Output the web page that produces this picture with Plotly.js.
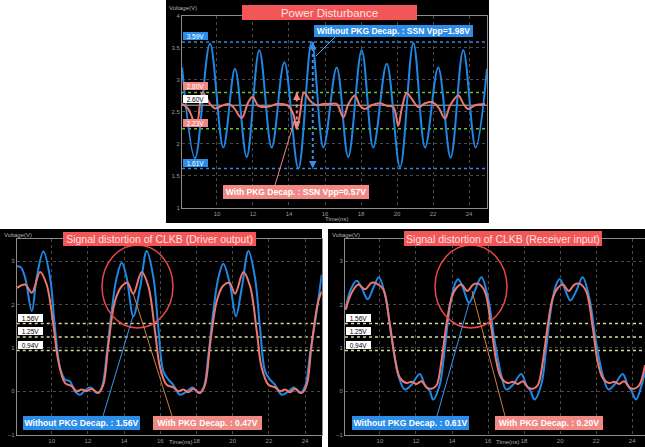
<!DOCTYPE html>
<html><head><meta charset="utf-8">
<script src="https://cdn.plot.ly/plotly-3.0.1.min.js"></script>
<style>html,body{margin:0;padding:0;background:#fff;}#chart{width:645px;height:447px;}</style>
</head><body><div id="chart"></div>
<script>
// ---------- DATA ----------
// Panel 1: Power Disturbance (Voltage vs Time(ns))
const pdTimeNoDecap = [8.06, 8.78, 9.61, 10.35, 11.0, 11.65, 12.35, 13.04, 13.74, 14.52, 15.26, 15.91, 16.65, 17.29, 18.04, 18.68, 19.43, 20.17, 20.91, 21.56, 22.29, 22.98, 23.68, 24.37, 25.0];
const pdNoDecap = [3.19, 1.77, 3.56, 1.94, 3.17, 1.79, 3.46, 1.94, 3.27, 1.61, 3.59, 1.94, 3.19, 1.79, 3.46, 1.94, 3.25, 1.63, 3.57, 1.94, 3.19, 1.78, 3.46, 1.94, 3.17];
const pdTimeWithDecap = [8.06, 8.41, 8.85, 9.2, 9.61, 9.89, 10.26, 10.63, 10.91, 11.37, 11.74, 11.97, 12.3, 12.67, 13.04, 13.32, 13.59, 13.96, 14.24, 14.43, 14.61, 14.83, 15.17, 15.54, 15.9, 16.28, 16.65, 17.02, 17.3, 17.67, 17.94, 18.22, 18.59, 19.06, 19.43, 19.8, 20.07, 20.26, 20.54, 20.82, 21.18, 21.56, 21.93, 22.29, 22.67, 22.94, 23.41, 23.69, 23.96, 24.33, 24.89];
const pdWithDecap = [2.62, 2.54, 2.28, 2.80, 2.62, 2.55, 2.59, 2.62, 2.57, 2.40, 2.65, 2.73, 2.59, 2.57, 2.59, 2.62, 2.62, 2.59, 2.46, 2.23, 2.46, 2.80, 2.67, 2.60, 2.62, 2.62, 2.62, 2.41, 2.62, 2.75, 2.59, 2.54, 2.60, 2.63, 2.59, 2.57, 2.28, 2.54, 2.79, 2.70, 2.57, 2.63, 2.65, 2.57, 2.39, 2.59, 2.75, 2.62, 2.54, 2.60, 2.62];
const pdLevels = [3.59, 2.80, 2.60, 2.23, 1.61];
const pdLevelLabels = ['3.59V', '2.80V', '2.60V', '2.23V', '1.61V'];
const pdSwingNoDecap = [3.59, 1.61];   // SSN Vpp = 1.98V
const pdSwingWithDecap = [2.80, 2.23]; // SSN Vpp = 0.57V

// Panel 2: CLKB driver output
const drvTimeNoDecap = [8.07, 8.29, 8.53, 8.9, 9.17, 9.54, 9.91, 10.18, 10.46, 10.74, 11.01, 11.29, 11.57, 11.84, 12.15, 12.49, 12.76, 13.04, 13.31, 13.59, 13.87, 14.14, 14.51, 14.88, 15.25, 15.62, 15.89, 16.17, 16.45, 16.72, 17.09, 17.46, 17.79, 18.1, 18.38, 18.66, 18.93, 19.21, 19.48, 19.85, 20.18, 20.5, 20.87, 21.23, 21.51, 21.79, 22.06, 22.34, 22.71, 23.08, 23.39, 23.72, 24.0, 24.27, 24.64, 24.92];
const drvNoDecap = [2.88, 2.86, 2.62, 1.85, 2.62, 3.22, 2.62, 1.46, 0.54, 0.27, 0.23, 0.0, -0.08, 0.02, 0.09, -0.04, 0.08, 0.85, 1.85, 2.62, 2.96, 2.62, 1.73, 2.38, 3.23, 2.62, 1.46, 0.46, 0.27, 0.15, -0.08, 0.0, 0.09, -0.04, 0.08, 0.85, 1.85, 2.62, 2.94, 2.46, 1.73, 2.38, 3.23, 2.62, 1.46, 0.46, 0.27, 0.15, -0.08, 0.0, 0.09, -0.04, 0.12, 0.85, 1.85, 2.69];
const drvTimeWithDecap = [8.07, 8.53, 8.9, 9.36, 9.72, 10.09, 10.37, 10.74, 11.1, 11.38, 11.66, 11.93, 12.21, 12.58, 12.85, 13.13, 13.5, 13.87, 14.18, 14.51, 14.97, 15.34, 15.71, 15.99, 16.35, 16.72, 17.0, 17.27, 17.55, 17.83, 18.2, 18.47, 18.75, 19.12, 19.45, 19.82, 20.13, 20.59, 20.96, 21.33, 21.6, 21.97, 22.34, 22.62, 22.89, 23.17, 23.44, 23.81, 24.09, 24.36, 24.73, 24.92];
const drvWithDecap = [2.38, 2.46, 2.27, 2.75, 2.46, 1.54, 0.69, 0.19, 0.12, 0.0, 0.04, 0.0, 0.06, -0.04, 0.15, 1.08, 2.08, 2.42, 2.5, 2.25, 2.75, 2.42, 1.38, 0.54, 0.15, 0.09, 0.0, 0.04, -0.02, 0.06, -0.04, 0.15, 1.08, 2.08, 2.42, 2.5, 2.25, 2.75, 2.42, 1.38, 0.54, 0.15, 0.09, 0.0, 0.04, -0.02, 0.06, -0.04, 0.15, 1.08, 2.08, 2.3];

// Panel 3: CLKB receiver input
const rcvTimeNoDecap = [8.1, 8.34, 8.71, 8.99, 9.32, 9.63, 9.94, 10.28, 10.65, 11.01, 11.38, 11.75, 12.21, 12.49, 12.77, 12.95, 13.32, 13.6, 13.87, 14.15, 14.34, 14.61, 14.94, 15.26, 15.63, 16.0, 16.37, 16.73, 17.01, 17.38, 17.84, 18.12, 18.36, 18.58, 18.95, 19.23, 19.5, 19.78, 19.98, 20.24, 20.57, 20.89, 21.25, 21.62, 21.99, 22.36, 22.68, 23.01, 23.47, 23.75, 23.97, 24.21, 24.48, 24.71];
const rcvNoDecap = [1.88, 2.31, 2.55, 2.38, 2.12, 2.38, 2.63, 2.23, 1.23, 0.38, 0.04, 0.15, 0.4, 0.15, 0.0, -0.19, 0.15, 1.0, 1.92, 2.46, 2.58, 2.38, 2.04, 2.31, 2.63, 2.15, 1.15, 0.38, 0.04, 0.15, 0.4, 0.15, 0.0, -0.19, 0.15, 1.0, 1.92, 2.46, 2.58, 2.38, 2.09, 2.31, 2.63, 2.15, 1.15, 0.38, 0.04, 0.15, 0.4, 0.15, 0.0, -0.19, 0.08, 0.45];
const rcvTimeWithDecap = [8.1, 8.43, 8.8, 9.17, 9.54, 9.82, 10.18, 10.55, 10.83, 11.11, 11.48, 11.75, 12.03, 12.31, 12.58, 12.86, 13.14, 13.41, 13.69, 13.97, 14.24, 14.52, 14.85, 15.17, 15.44, 15.81, 16.18, 16.46, 16.73, 17.1, 17.38, 17.66, 17.93, 18.21, 18.49, 18.76, 19.04, 19.32, 19.59, 19.87, 20.15, 20.48, 20.79, 21.07, 21.44, 21.81, 22.08, 22.36, 22.73, 23.01, 23.28, 23.56, 23.84, 24.11, 24.39, 24.71];
const rcvWithDecap = [1.88, 2.27, 2.46, 2.35, 2.5, 2.48, 2.35, 1.54, 0.77, 0.31, 0.19, 0.22, 0.17, 0.23, 0.09, 0.06, 0.14, 0.69, 1.54, 2.15, 2.38, 2.46, 2.31, 2.46, 2.48, 2.31, 1.46, 0.69, 0.31, 0.19, 0.22, 0.17, 0.23, 0.09, 0.06, 0.14, 0.69, 1.54, 2.15, 2.38, 2.46, 2.31, 2.46, 2.48, 2.31, 1.46, 0.69, 0.31, 0.19, 0.22, 0.17, 0.23, 0.09, 0.06, 0.14, 0.6];

const clkLevels = [1.56, 1.25, 0.94];
const clkLevelLabels = ['1.56V', '1.25V', '0.94V'];

const panelTitles = ['Power Disturbance', 'Signal distortion of CLKB (Driver output)', 'Signal distortion of CLKB (Receiver input)'];
const noDecapNotes = ['Without PKG Decap. : SSN Vpp=1.98V', 'Without PKG Decap. : 1.56V', 'Without PKG Decap. : 0.61V'];
const withDecapNotes = ['With PKG Decap. : SSN Vpp=0.57V', 'With PKG Decap. : 0.47V', 'With PKG Decap. : 0.20V'];

// ---------- STYLE ----------
const W = 645, H = 447;
const px = x => x / W;
const py = y => 1 - y / H;
const FONT = 'Liberation Sans, Arial, sans-serif';
const BLUE = '#1f88e5', RED = '#ec776f';
const BOXBLUE = '#2b8de8', BOXPINK = '#f08884', TITLERED = '#f25656';

function line(x, y, color, xa, ya) {
  return {x, y, xaxis: xa, yaxis: ya, type: 'scatter', mode: 'lines',
    line: {color, width: 2, shape: 'spline', smoothing: 1}, hoverinfo: 'skip'};
}
const data = [
  line(pdTimeNoDecap, pdNoDecap, BLUE, 'x', 'y'),
  line(pdTimeWithDecap, pdWithDecap, RED, 'x', 'y'),
  line(drvTimeNoDecap, drvNoDecap, BLUE, 'x2', 'y2'),
  line(drvTimeWithDecap, drvWithDecap, RED, 'x2', 'y2'),
  line(rcvTimeNoDecap, rcvNoDecap, BLUE, 'x3', 'y3'),
  line(rcvTimeWithDecap, rcvWithDecap, RED, 'x3', 'y3')
];

function xax(x0, x1, range, anchor) {
  return {domain: [px(x0), px(x1)], range, anchor, dtick: 2, tick0: 0,
    showgrid: true, gridcolor: '#4a4a4a', griddash: 'dot', gridwidth: 1,
    zeroline: false, showline: true, linecolor: '#8c8c8c', linewidth: 1, mirror: true,
    ticks: '', tickfont: {size: 6, color: '#9a9a9a', family: FONT}, fixedrange: true};
}
function yax(yTop, yBot, range, dtick, anchor) {
  return {domain: [py(yBot), py(yTop)], range, anchor, dtick, tick0: 0,
    showgrid: true, gridcolor: '#4a4a4a', griddash: 'dot', gridwidth: 1,
    zeroline: false, showline: true, linecolor: '#8c8c8c', linewidth: 1, mirror: true,
    ticks: '', tickfont: {size: 6, color: '#9a9a9a', family: FONT}, fixedrange: true};
}

const shapes = [];
const annotations = [];
function rect(x0, y0, x1, y1, fill) {
  shapes.push({type: 'rect', xref: 'paper', yref: 'paper', x0: px(x0), x1: px(x1), y0: py(y1), y1: py(y0),
    fillcolor: fill, line: {width: 0}, layer: 'below'});
}
function seg(x0, y0, x1, y1, color, width) {
  shapes.push({type: 'line', xref: 'paper', yref: 'paper', x0: px(x0), y0: py(y0), x1: px(x1), y1: py(y1),
    line: {color, width: width || 1}, layer: 'above'});
}
function box(text, x0, y0, w, h, bg, color, size, bold) {
  annotations.push({text: bold ? '<b>' + text + '</b>' : text, xref: 'paper', yref: 'paper',
    x: px(x0), y: py(y0), xanchor: 'left', yanchor: 'top', width: w, height: h,
    bgcolor: bg, borderwidth: 0, borderpad: 0, showarrow: false, align: 'center', valign: 'middle',
    font: {family: FONT, size, color}});
}
function levelLabel(text, xPix, level, yref, bg, color) {
  annotations.push({text, xref: 'paper', yref, x: px(xPix), y: level, xanchor: 'left', yanchor: 'bottom',
    yshift: 2, width: 25, height: 8, bgcolor: bg, borderwidth: 0, borderpad: 0, showarrow: false,
    font: {family: FONT, size: 6.5, color}});
}
function hline(xa, ya, range, level, color, dash, width) {
  shapes.push({type: 'line', xref: xa, yref: ya, x0: range[0], x1: range[1], y0: level, y1: level,
    line: {color, width: width || 1.5, dash: dash || 'dot'}, layer: 'below'});
}
function small(text, x, y) {
  annotations.push({text, xref: 'paper', yref: 'paper', x: px(x), y: py(y), xanchor: 'left', yanchor: 'top',
    showarrow: false, font: {family: FONT, size: 6, color: '#b0b0b0'}});
}

const xr1 = [8.056, 25.0], xr2 = [8.066, 24.917], xr3 = [8.06, 24.71];

// panel backgrounds
rect(166, 0, 489, 223, '#000');
rect(0, 229, 322, 447, '#000');
rect(328, 229, 645, 447, '#000');

// ---- Panel 1 reference levels
const pdLevelColors = ['#3a88dc', '#63c22e', '#bdbdbd', '#63c22e', '#3a88dc'];
const pdLevelDash = ['dot', 'dot', 'solid', 'dot', 'dot'];
const pdLabelBg = [BOXBLUE, BOXPINK, '#ffffff', BOXPINK, BOXBLUE];
const pdLabelFg = ['#fff', '#fff', '#000', '#fff', '#fff'];
pdLevels.forEach((lv, i) => {
  hline('x', 'y', xr1, lv, pdLevelColors[i], pdLevelDash[i], pdLevelDash[i] === 'solid' ? 1 : 1.5);
  levelLabel(pdLevelLabels[i], 183, lv, 'y', pdLabelBg[i], pdLabelFg[i]);
});
// vertical swing markers
shapes.push({type: 'line', xref: 'x', yref: 'y', x0: 15.32, x1: 15.32, y0: pdSwingNoDecap[0], y1: pdSwingNoDecap[1],
  line: {color: '#3a90e8', width: 2, dash: 'dot'}, layer: 'above'});
shapes.push({type: 'line', xref: 'x', yref: 'y', x0: 14.43, x1: 14.43, y0: pdSwingWithDecap[0], y1: pdSwingWithDecap[1],
  line: {color: '#f08884', width: 2, dash: 'dot'}, layer: 'above'});
function arrowHead(x, y, dir, color) {
  annotations.push({x, y, xref: 'x', yref: 'y', text: '', showarrow: true, ax: 0, ay: dir * 6,
    arrowhead: 2, arrowsize: 1, arrowwidth: 1.5, arrowcolor: color});
}
arrowHead(15.32, pdSwingNoDecap[0], 1, '#3a90e8');
arrowHead(15.32, pdSwingNoDecap[1], -1, '#3a90e8');
arrowHead(14.43, pdSwingWithDecap[0], 1, '#f08884');
arrowHead(14.43, pdSwingWithDecap[1], -1, '#f08884');

// ---- Panel 2/3 reference levels
clkLevels.forEach((lv, i) => {
  hline('x2', 'y2', xr2, lv, '#d9d9a0');
  hline('x3', 'y3', xr3, lv, '#d9d9a0');
  levelLabel(clkLevelLabels[i], 18, lv, 'y2', '#ffffff', '#000');
  levelLabel(clkLevelLabels[i], 346, lv, 'y3', '#ffffff', '#000');
});

// circles
shapes.push({type: 'circle', xref: 'paper', yref: 'paper', x0: px(102), x1: px(173), y0: py(328), y1: py(245),
  line: {color: '#e84848', width: 1.5}, layer: 'above'});
shapes.push({type: 'circle', xref: 'paper', yref: 'paper', x0: px(435), x1: px(507), y0: py(328), y1: py(245),
  line: {color: '#e84848', width: 1.5}, layer: 'above'});

// pointer lines
seg(335, 37, 316, 56, '#4aa0f0');
seg(275, 185, 295, 119, '#f08884');
seg(103, 416, 133, 316, '#3a98f0');
seg(172, 416, 133, 293, '#d08040');
seg(437, 416, 469, 303, '#3a98f0');
seg(505, 416, 472, 291, '#d08040');

// titles & notes
box(panelTitles[0], 242, 5, 175, 15, TITLERED, '#ffe2e2', 11.5, false);
box(panelTitles[1], 63, 232, 193, 14, TITLERED, '#ffe2e2', 10.5, false);
box(panelTitles[2], 404, 231, 198, 15, TITLERED, '#ffe2e2', 10.5, false);
box(noDecapNotes[0], 314, 25, 159, 12, BOXBLUE, '#fff', 8.5, true);
box(withDecapNotes[0], 223, 185, 146, 14, BOXPINK, '#fff', 8.5, true);
box(noDecapNotes[1], 23, 416, 117, 14, BOXBLUE, '#fff', 8.6, true);
box(withDecapNotes[1], 153, 416, 109, 14, BOXPINK, '#fff', 8.6, true);
box(noDecapNotes[2], 352, 416, 117, 14, BOXBLUE, '#fff', 8.6, true);
box(withDecapNotes[2], 495, 416, 108, 14, BOXPINK, '#fff', 8.6, true);

// axis titles
small('Voltage(V)', 167, 3);
small('Voltage(V)', 2, 230);
small('Voltage(V)', 330, 230);
small('Time(ns)', 323, 214);
small('Time(ns)', 167, 437);
small('Time(ns)', 494, 437);

const layout = {
  width: W, height: H, margin: {l: 0, r: 0, t: 0, b: 0},
  paper_bgcolor: '#ffffff', plot_bgcolor: '#000000', showlegend: false,
  font: {family: FONT},
  xaxis: xax(182, 487, xr1, 'y'),
  yaxis: yax(15.7, 207.5, [1, 4], 0.5, 'x'),
  xaxis2: xax(16.7, 321.7, xr2, 'y2'),
  yaxis2: yax(239.4, 434.7, [-1, 3.5], 1, 'x2'),
  xaxis3: xax(345, 645, xr3, 'y3'),
  yaxis3: yax(239.4, 434.7, [-1, 3.5], 1, 'x3'),
  shapes, annotations
};
Plotly.newPlot('chart', data, layout, {staticPlot: true, displayModeBar: false});
</script>
</body></html>
